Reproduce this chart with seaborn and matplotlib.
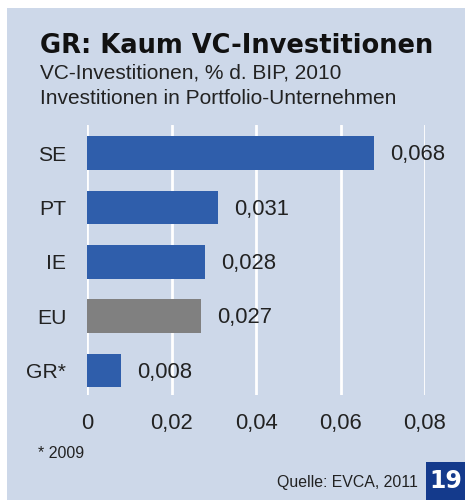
#
## plot.py
#
#  Horizontal bar chart: VC investments as % of GDP (2010), recreated with seaborn.
#

import pandas as pd
import matplotlib.pyplot as plt
import seaborn as sns
from matplotlib.patches import Rectangle

# Data
countries = ['SE', 'PT', 'IE', 'EU', 'GR*']
values = [0.068, 0.031, 0.028, 0.027, 0.008]
value_labels = ['0,068', '0,031', '0,028', '0,027', '0,008']
x_ticks = [0, 0.02, 0.04, 0.06, 0.08]
x_tick_labels = ['0', '0,02', '0,04', '0,06', '0,08']

blue = '#2f5eab'
grey = '#808080'
bg = '#cdd8e9'
bar_colors = [grey if c == 'EU' else blue for c in countries]

df = pd.DataFrame({'Land': countries, 'Wert': values})

sns.set_theme(style='white')
plt.rcParams['font.family'] = ['Liberation Sans', 'DejaVu Sans']

fig = plt.figure(figsize=(4.65, 5.0), dpi=100)
fig.patch.set_facecolor(bg)

# white strips on top and left edge of the panel
fig.patches.append(Rectangle((0, 0), 7 / 465, 1, transform=fig.transFigure,
                             facecolor='white', edgecolor='none'))
fig.patches.append(Rectangle((0, 1 - 8 / 500), 1, 8 / 500, transform=fig.transFigure,
                             facecolor='white', edgecolor='none'))

ax = fig.add_axes([87 / 465, 105 / 500, 338 / 465, 270 / 500])
ax.set_facecolor('none')

sns.barplot(data=df, x='Wert', y='Land', hue='Land', palette=bar_colors, legend=False,
            orient='h', width=0.62, saturation=1, linewidth=0, ax=ax, zorder=3)

ax.set_xlim(0, 0.08)
ax.set_ylim(4.45, -0.52)
ax.set_xticks(x_ticks)
ax.set_xticklabels(x_tick_labels, fontsize=15.8, color='#222222')
ax.tick_params(axis='x', length=0, pad=13)
ax.tick_params(axis='y', length=0, pad=15, labelsize=15.2, labelcolor='#222222')
ax.set_xlabel('')
ax.set_ylabel('')
ax.grid(axis='x', color='white', linewidth=2, zorder=1)
ax.set_axisbelow(True)
for s in ax.spines.values():
    s.set_visible(False)

# value labels next to each bar
for i, (v, lab) in enumerate(zip(values, value_labels)):
    ax.text(v + 0.0038, i + 0.03, lab, va='center', ha='left', fontsize=15.8, color='#222222')

# titles
fig.text(40 / 465, 1 - 46 / 500, 'GR: Kaum VC-Investitionen', fontsize=18.5,
         fontweight='bold', family='DejaVu Sans', color='#111111', va='center')
fig.text(40 / 465, 1 - 73 / 500, 'VC-Investitionen, % d. BIP, 2010', fontsize=15,
         color='#222222', va='center')
fig.text(40 / 465, 1 - 99 / 500, 'Investitionen in Portfolio-Unternehmen', fontsize=15,
         color='#222222', va='center')

# footnote and source
fig.text(38 / 465, 1 - 454 / 500, '* 2009', fontsize=11.5, color='#222222', va='center')
fig.text(418 / 465, 1 - 483 / 500, 'Quelle: EVCA, 2011', fontsize=11.4, color='#222222',
         va='center', ha='right')

# page number badge
fig.patches.append(Rectangle((426 / 465, 0), 39 / 465, 38 / 500, transform=fig.transFigure,
                             facecolor='#143a8c', edgecolor='none'))
fig.text(445.5 / 465, 19 / 500, '19', fontsize=17, fontweight='bold', color='white',
         ha='center', va='center', family='DejaVu Sans')

fig.savefig('out.png', dpi=100, facecolor=fig.get_facecolor())
